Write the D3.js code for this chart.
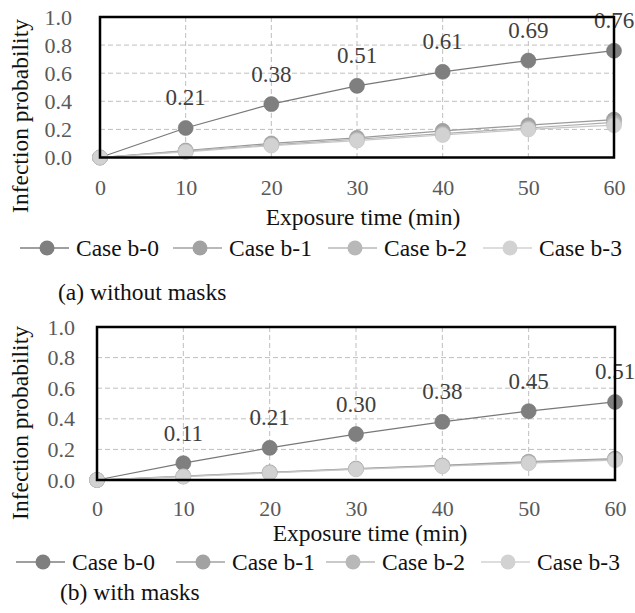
<!DOCTYPE html>
<html>
<head>
<meta charset="utf-8">
<script src="https://cdn.jsdelivr.net/npm/d3@7"></script>
<style>
body{margin:0;background:#fff;font-family:"Times New Roman",Times,"Liberation Serif",serif;}
</style>
</head>
<body>
<script>
// exposure time (min)
var times = [0, 10, 20, 30, 40, 50, 60];
var caseNames = ["Case b-0", "Case b-1", "Case b-2", "Case b-3"];
var caseColors = ["#7f7f7f", "#a2a2a2", "#b8b8b8", "#d2d2d2"];
var yTicks = [0, 0.2, 0.4, 0.6, 0.8, 1.0];

// (a) without masks
var noMaskB0 = [0, 0.21, 0.38, 0.51, 0.61, 0.69, 0.76];
var noMaskB1 = [0, 0.05, 0.10, 0.14, 0.19, 0.23, 0.27];
var noMaskB2 = [0, 0.045, 0.09, 0.13, 0.17, 0.21, 0.25];
var noMaskB3 = [0, 0.04, 0.085, 0.12, 0.16, 0.20, 0.23];

// (b) with masks
var maskB0 = [0, 0.11, 0.21, 0.30, 0.38, 0.45, 0.51];
var maskB1 = [0, 0.025, 0.05, 0.075, 0.095, 0.12, 0.14];
var maskB2 = [0, 0.023, 0.048, 0.072, 0.092, 0.115, 0.135];
var maskB3 = [0, 0.022, 0.046, 0.07, 0.09, 0.11, 0.13];

var FONT = '"Times New Roman", Times, "Liberation Serif", serif'

var svg = d3.select('body')
  .append('svg')
  .attr('width', 635)
  .attr('height', 613)
  .style('font-family', FONT)

var drawPanel = (p) => {
  var x = d3.scaleLinear().domain([0, 60]).range([p.left, p.right])
  var y = d3.scaleLinear().domain([0, 1]).range([p.bottom, p.top])
  var g = svg.append('g')

  // dashed grid
  g.selectAll('.hgrid')
    .data(yTicks.slice(1, -1))
    .enter()
    .append('line')
    .attr('x1', p.left).attr('x2', p.right)
    .attr('y1', d => y(d)).attr('y2', d => y(d))
    .attr('stroke', '#bfbfbf')
    .attr('stroke-dasharray', '5,3')
  g.selectAll('.vgrid')
    .data(times.slice(1, -1))
    .enter()
    .append('line')
    .attr('x1', d => x(d)).attr('x2', d => x(d))
    .attr('y1', p.top).attr('y2', p.bottom)
    .attr('stroke', '#bfbfbf')
    .attr('stroke-dasharray', '5,3')

  // axes (labels only)
  var xAxis = g.append('g')
    .attr('transform', 'translate(0,' + (p.bottom + p.xTickGap) + ')')
    .call(d3.axisBottom(x).tickValues(times).tickSize(0).tickPadding(0).tickFormat(d3.format('d')))
  var yAxis = g.append('g')
    .attr('transform', 'translate(' + (p.left - p.yTickGap) + ',0)')
    .call(d3.axisLeft(y).tickValues(yTicks).tickSize(0).tickPadding(0).tickFormat(d3.format('.1f')))
  ;[xAxis, yAxis].forEach(a => {
    a.attr('font-family', null).attr('font-size', null)
    a.select('.domain').remove()
    a.selectAll('text')
      .attr('fill', '#595959')
      .style('font-family', FONT)
      .style('font-size', '22px')
  })
  xAxis.selectAll('text').attr('dy', '0.35em')

  var line = d3.line()
    .x((d, i) => x(times[i]))
    .y(d => y(d))

  p.series.forEach((s, k) => {
    g.append('path')
      .attr('d', line(s))
      .attr('fill', 'none')
      .attr('stroke', d3.color(caseColors[k]).darker(0.15))
      .attr('stroke-width', 1.2)
  })
  p.series.forEach((s, k) => {
    g.selectAll('.pt' + k)
      .data(s)
      .enter()
      .append('circle')
      .attr('cx', (d, i) => x(times[i]))
      .attr('cy', d => y(d))
      .attr('r', 7.5)
      .attr('fill', caseColors[k])
      .attr('stroke', d3.color(caseColors[k]).darker(0.2))
      .attr('stroke-width', 0.6)
  })

  // value labels on case b-0
  g.selectAll('.lab')
    .data(p.series[0].slice(1))
    .enter()
    .append('text')
    .attr('x', (d, i) => x(times[i + 1]))
    .attr('y', d => y(d) - 30)
    .attr('text-anchor', 'middle')
    .attr('dominant-baseline', 'central')
    .attr('fill', '#404040')
    .style('font-size', '23px')
    .text(d => d.toFixed(2))

  // frame
  g.append('rect')
    .attr('x', p.left).attr('y', p.top)
    .attr('width', p.right - p.left).attr('height', p.bottom - p.top)
    .attr('fill', 'none')
    .attr('stroke', '#000')
    .attr('stroke-width', 2.5)

  // titles
  g.append('text')
    .attr('transform', 'translate(' + p.yTitleX + ',' + p.yTitleY + ') rotate(-90)')
    .attr('text-anchor', 'middle')
    .attr('dominant-baseline', 'central')
    .style('font-size', '23.5px')
    .attr('fill', '#111')
    .text('Infection probability')
  g.append('text')
    .attr('x', p.xTitleX).attr('y', p.xTitleY)
    .attr('text-anchor', 'middle')
    .attr('dominant-baseline', 'central')
    .style('font-size', '23.5px')
    .attr('fill', '#111')
    .text('Exposure time (min)')

  // legend
  var leg = g.selectAll('.leg')
    .data(caseNames)
    .enter()
    .append('g')
    .attr('transform', (d, i) => 'translate(' + p.legX[i] + ',' + p.legY + ')')
  leg.append('line')
    .attr('x1', -27).attr('x2', 22)
    .attr('stroke', (d, i) => caseColors[i])
    .attr('stroke-width', 1.5)
  leg.append('circle')
    .attr('r', 7.5)
    .attr('fill', (d, i) => caseColors[i])
  leg.append('text')
    .attr('x', 29)
    .attr('dominant-baseline', 'central')
    .style('font-size', '23.5px')
    .attr('fill', '#111')
    .text(d => d)

  g.append('text')
    .attr('x', p.capX).attr('y', p.capY)
    .attr('dominant-baseline', 'central')
    .style('font-size', '23.5px')
    .attr('fill', '#111')
    .text(p.caption)
}

drawPanel({
  left: 100, right: 614, top: 17, bottom: 157.5,
  xTickGap: 30, yTickGap: 28,
  series: [noMaskB0, noMaskB1, noMaskB2, noMaskB3],
  yTitleX: 20, yTitleY: 116,
  xTitleX: 363, xTitleY: 217,
  legX: [47, 200, 355, 510], legY: 248,
  capX: 58, capY: 292, caption: '(a) without masks'
})

drawPanel({
  left: 97, right: 615, top: 327, bottom: 480,
  xTickGap: 28, yTickGap: 22,
  series: [maskB0, maskB1, maskB2, maskB3],
  yTitleX: 20, yTitleY: 423,
  xTitleX: 370, xTitleY: 533,
  legX: [43, 203, 353, 508], legY: 562,
  capX: 60, capY: 592, caption: '(b) with masks'
})
</script>
</body>
</html>
